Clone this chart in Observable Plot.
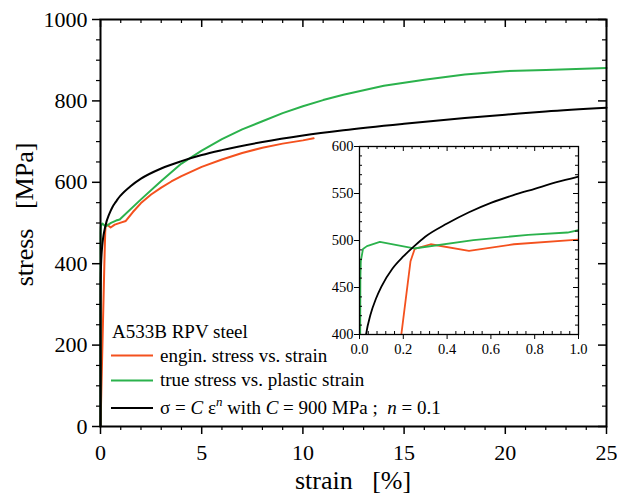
<!DOCTYPE html>
<html>
<head>
<meta charset="utf-8">
<script src="https://cdn.jsdelivr.net/npm/d3@7"></script>
<script src="https://cdn.jsdelivr.net/npm/@observablehq/plot@0.6"></script>
<style>
  html, body { margin: 0; padding: 0; background: white; }
  #wrap { position: relative; width: 617px; height: 498px; }
  #wrap svg { max-width: none; }
</style>
</head>
<body>
<div id="wrap"></div>
<script>
// ---------- data (strain in %, stress in MPa) ----------
const enginStrain = [0, 0.191, 0.233, 0.252, 0.325, 0.5, 0.705, 1.0, 1.25, 1.6, 2, 2.5, 3, 3.5, 4, 5, 6, 7, 8, 9, 10, 10.53];
const enginStress = [0, 400, 478, 491, 496, 489, 496, 501, 505, 527, 549, 570, 587, 602, 615, 638, 656, 672, 685, 695, 703, 708];

const trueStrain = [0, 0.004, 0.006, 0.016, 0.034, 0.093, 0.249, 0.52, 0.77, 0.95, 1.0, 2, 3, 4, 5, 6, 7, 8, 9, 10, 11, 12, 14, 16, 18, 20, 22, 25];
const trueStress = [0, 460, 478, 491, 494, 498.5, 491.5, 500.5, 506, 508.5, 511, 558, 603, 646, 678, 706, 730, 750, 770, 787, 802, 815, 837, 852, 865, 873, 876, 881];

const fitStrain = [0, 0.0001, 0.001, 0.005, 0.01, 0.03, 0.05, 0.075, 0.1, 0.15, 0.2, 0.25, 0.3, 0.4, 0.5, 0.6, 0.7, 0.8, 0.9, 1.0, 1.5, 2, 3, 4, 5, 6, 8, 10, 12, 15, 18, 20, 22, 25];
const fitStress = [0, 226, 285, 334, 358, 400, 421, 438, 451, 470, 483, 494, 504, 518, 530, 540, 548, 555, 562, 568, 591, 609, 634, 652, 667, 679, 699, 715, 728, 744, 758, 766, 774, 783];

const xMajor = [0, 5, 10, 15, 20, 25];
const xMinor = [1, 2, 3, 4, 6, 7, 8, 9, 11, 12, 13, 14, 16, 17, 18, 19, 21, 22, 23, 24];
const yMajor = [0, 200, 400, 600, 800, 1000];
const yMinor = [50, 100, 150, 250, 300, 350, 450, 500, 550, 650, 700, 750, 850, 900, 950];

const insetXMajor = [0, 0.2, 0.4, 0.6, 0.8, 1.0];
const insetXMinor = [0.04, 0.08, 0.12, 0.16, 0.24, 0.28, 0.32, 0.36, 0.44, 0.48, 0.52, 0.56, 0.64, 0.68, 0.72, 0.76, 0.84, 0.88, 0.92, 0.96];
const insetYMajor = [400, 450, 500, 550, 600];
const insetYMinor = [410, 420, 430, 440, 460, 470, 480, 490, 510, 520, 530, 540, 560, 570, 580, 590];

const legendTitle = "A533B RPV steel";
const legendLabels = ["engin. stress vs. strain", "true stress vs. plastic strain"];
const xTitle = "strain\u00a0\u00a0\u00a0[%]";
const yTitle = "stress\u00a0\u00a0\u00a0[MPa]";

const ORANGE = "#f4511e";
const GREEN = "#2bb24c";
const FONT = "Liberation Serif";

const engin = enginStrain.map((s, i) => ({strain: s, stress: enginStress[i]}));
const trueS = trueStrain.map((s, i) => ({strain: s, stress: trueStress[i]}));
const fit = fitStrain.map((s, i) => ({strain: s, stress: fitStress[i]}));

// ---------- main chart ----------
const W = 617, H = 498, mL = 100, mR = 11, mT = 19, mB = 72;
const PH = H - mT - mB, PW = W - mL - mR;

const main = Plot.plot({
  width: W, height: H,
  marginLeft: mL, marginRight: mR, marginTop: mT, marginBottom: mB,
  style: {fontFamily: FONT, fontSize: "22px", color: "black", background: "white", overflow: "visible"},
  x: {domain: [0, 25]},
  y: {domain: [0, 1000]},
  marks: [
    Plot.line(engin, {x: "strain", y: "stress", stroke: ORANGE, strokeWidth: 2}),
    Plot.line(trueS, {x: "strain", y: "stress", stroke: GREEN, strokeWidth: 2}),
    Plot.line(fit, {x: "strain", y: "stress", stroke: "black", strokeWidth: 2, curve: "monotone-x"}),
    Plot.frame({stroke: "black", strokeWidth: 2}),
    // bottom / left: outward ticks with labels
    Plot.axisX({anchor: "bottom", ticks: xMajor, tickSize: 8, tickPadding: 10, fontSize: 22, label: null, tickFormat: d => String(d), strokeWidth: 1.5}),
    Plot.axisY({anchor: "left", ticks: yMajor, tickSize: 8, tickPadding: 5, fontSize: 22, label: null, tickFormat: d => String(d), strokeWidth: 1.5}),
    Plot.ruleX(xMinor, {x: d => d, insetTop: PH, insetBottom: -4, stroke: "black", strokeWidth: 1.2}),
    Plot.ruleY(yMinor, {y: d => d, insetRight: PW, insetLeft: -4, stroke: "black", strokeWidth: 1.2}),
    // top / right: inward ticks
    Plot.ruleX(xMajor, {x: d => d, insetBottom: PH - 8, stroke: "black", strokeWidth: 1.5}),
    Plot.ruleX(xMinor, {x: d => d, insetBottom: PH - 4, stroke: "black", strokeWidth: 1.2}),
    Plot.ruleY(yMajor, {y: d => d, insetLeft: PW - 8, stroke: "black", strokeWidth: 1.5}),
    Plot.ruleY(yMinor, {y: d => d, insetLeft: PW - 4, stroke: "black", strokeWidth: 1.2})
  ]
});

// axis titles
const ms = d3.select(main);
ms.append("text")
  .attr("x", 353).attr("y", 489)
  .attr("text-anchor", "middle")
  .attr("font-family", FONT).attr("font-size", 26).attr("fill", "black")
  .text(xTitle);
ms.append("text")
  .attr("transform", "translate(33,214.5) rotate(-90)")
  .attr("text-anchor", "middle")
  .attr("font-family", FONT).attr("font-size", 26).attr("fill", "black")
  .text(yTitle);

// legend
const leg = ms.append("g")
  .attr("font-family", FONT).attr("font-size", 19).attr("fill", "black")
  .attr("text-anchor", "start");
leg.append("text").attr("x", 112).attr("y", 338).text(legendTitle);
const rowY = [355.5, 380.5, 408];
const rowColors = [ORANGE, GREEN, "black"];
rowY.forEach((y, i) => {
  leg.append("line").attr("x1", 111).attr("x2", 153).attr("y1", y).attr("y2", y)
    .attr("stroke", rowColors[i]).attr("stroke-width", 2);
});
leg.append("text").attr("x", 160).attr("y", rowY[0] + 6.3).text(legendLabels[0]);
leg.append("text").attr("x", 160).attr("y", rowY[1] + 5.5).text(legendLabels[1]);
const t3 = leg.append("text").attr("x", 160).attr("y", rowY[2] + 5.8);
t3.append("tspan").text("\u03c3 = ");
t3.append("tspan").attr("font-style", "italic").text("C");
t3.append("tspan").text(" \u03b5");
t3.append("tspan").attr("font-style", "italic").attr("font-size", 13).attr("dy", -8).text("n");
t3.append("tspan").attr("dy", 8).text(" with ");
t3.append("tspan").attr("font-style", "italic").text("C");
t3.append("tspan").text(" = 900 MPa ;\u00a0\u00a0");
t3.append("tspan").attr("font-style", "italic").text("n");
t3.append("tspan").text(" = 0.1");

// ---------- inset chart ----------
const iW = 267, iH = 220, imL = 40, imR = 8, imT = 8, imB = 24;
const iPH = iH - imT - imB, iPW = iW - imL - imR;

const inset = Plot.plot({
  width: iW, height: iH,
  marginLeft: imL, marginRight: imR, marginTop: imT, marginBottom: imB,
  style: {fontFamily: FONT, fontSize: "14.5px", color: "black", background: "transparent", overflow: "visible"},
  x: {domain: [0, 1]},
  y: {domain: [400, 600]},
  marks: [
    Plot.frame({fill: "white"}),
    Plot.line(engin, {x: "strain", y: "stress", stroke: ORANGE, strokeWidth: 1.8, clip: true}),
    Plot.line(trueS, {x: "strain", y: "stress", stroke: GREEN, strokeWidth: 1.8, clip: true}),
    Plot.line(fit, {x: "strain", y: "stress", stroke: "black", strokeWidth: 1.8, curve: "monotone-x", clip: true}),
    Plot.frame({stroke: "black", strokeWidth: 1.3}),
    Plot.axisX({anchor: "bottom", ticks: insetXMajor, tickSize: 5, tickPadding: 4, fontSize: 14.5, label: null, tickFormat: d3.format(".1f")}),
    Plot.axisY({anchor: "left", ticks: insetYMajor, tickSize: 5, tickPadding: 1, fontSize: 14.5, label: null, tickFormat: d => String(d)}),
    Plot.ruleX(insetXMinor, {x: d => d, insetTop: iPH - 3, stroke: "black", strokeWidth: 1}),
    Plot.ruleY(insetYMinor, {y: d => d, insetRight: iPW - 3, stroke: "black", strokeWidth: 1}),
    Plot.ruleX(insetXMajor, {x: d => d, insetBottom: iPH - 5, stroke: "black", strokeWidth: 1}),
    Plot.ruleX(insetXMinor, {x: d => d, insetBottom: iPH - 3, stroke: "black", strokeWidth: 1}),
    Plot.ruleY(insetYMajor, {y: d => d, insetLeft: iPW - 5, stroke: "black", strokeWidth: 1}),
    Plot.ruleY(insetYMinor, {y: d => d, insetLeft: iPW - 3, stroke: "black", strokeWidth: 1})
  ]
});
inset.style.position = "absolute";
inset.style.left = "319px";
inset.style.top = "138px";

const wrap = document.getElementById("wrap");
wrap.appendChild(main);
wrap.appendChild(inset);
</script>
</body>
</html>
